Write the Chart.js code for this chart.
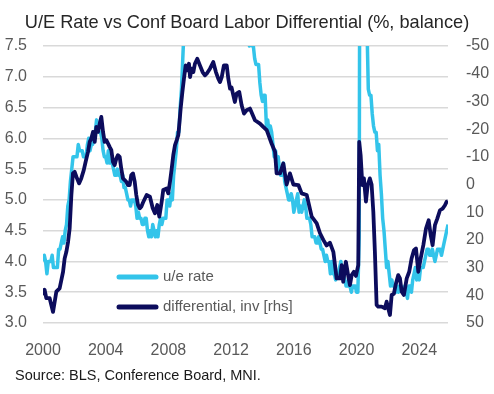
<!DOCTYPE html>
<html>
<head>
<meta charset="utf-8">
<script src="https://cdn.jsdelivr.net/npm/chart.js@4.4.1/dist/chart.umd.min.js"></script>
<style>
  html, body { margin: 0; padding: 0; background: #ffffff; }
  #wrap { width: 494px; height: 394px; }
</style>
</head>
<body>
<div id="wrap"><canvas id="c" width="494" height="394"></canvas></div>
<script>
// ---------- DATA ----------
const titleText = "U/E Rate vs Conf Board Labor Differential (%, balance)";
const sourceText = "Source: BLS, Conference Board, MNI.";
const ueLabel = "u/e rate";
const diffLabel = "differential, inv [rhs]";

const ueStartYear = 2000; // monthly, from Jan 2000
const ueRate = [
  4.0,4.1,4.0,3.8,4.0,4.0,4.0,4.1,3.9,3.9,3.9,3.9,
  4.2,4.2,4.3,4.4,4.3,4.5,4.6,4.9,5.0,5.3,5.5,5.7,
  5.7,5.7,5.7,5.9,5.8,5.8,5.8,5.7,5.7,5.7,5.9,6.0,
  5.8,5.9,5.9,6.0,6.1,6.3,6.2,6.1,6.1,6.0,5.8,5.7,
  5.7,5.6,5.8,5.6,5.6,5.6,5.5,5.4,5.4,5.5,5.4,5.4,
  5.3,5.4,5.2,5.2,5.1,5.0,5.0,4.9,5.0,5.0,5.0,4.9,
  4.7,4.8,4.7,4.7,4.6,4.6,4.7,4.7,4.5,4.4,4.5,4.4,
  4.6,4.5,4.4,4.5,4.4,4.6,4.7,4.6,4.7,4.7,4.7,5.0,
  5.0,4.9,5.1,5.0,5.4,5.6,5.8,6.1,6.1,6.5,6.8,7.3,
  7.8,8.3,8.7,9.0,9.4,9.5,9.5,9.6,9.8,10.0,9.9,9.9,
  9.8,9.8,9.9,9.9,9.6,9.4,9.4,9.5,9.5,9.4,9.8,9.3,
  9.1,9.0,9.0,9.1,9.0,9.1,9.0,9.0,9.0,8.8,8.6,8.5,
  8.3,8.3,8.2,8.2,8.2,8.2,8.2,8.0,7.8,7.8,7.7,7.9,
  8.0,7.7,7.5,7.6,7.5,7.5,7.3,7.2,7.2,7.2,6.9,6.7,
  6.6,6.7,6.7,6.2,6.3,6.1,6.2,6.1,5.9,5.7,5.8,5.6,
  5.7,5.5,5.4,5.4,5.6,5.3,5.2,5.1,5.0,5.0,5.1,5.0,
  4.8,4.9,5.0,5.1,4.8,4.9,4.8,4.9,5.0,4.9,4.7,4.7,
  4.7,4.6,4.4,4.4,4.4,4.3,4.3,4.4,4.3,4.2,4.2,4.1,
  4.0,4.1,4.0,4.0,3.8,4.0,3.8,3.8,3.7,3.8,3.8,3.9,
  4.0,3.8,3.8,3.7,3.6,3.6,3.7,3.6,3.5,3.6,3.6,3.6,
  3.5,3.5,4.4,14.8,13.2,11.0,10.2,8.4,7.8,6.8,6.7,6.7,
  6.4,6.2,6.1,6.1,5.8,5.9,5.4,5.1,4.7,4.5,4.2,3.9,
  4.0,3.8,3.6,3.7,3.6,3.6,3.5,3.6,3.5,3.6,3.6,3.5,
  3.5,3.6,3.5,3.4,3.6,3.6,3.5,3.7,3.8,3.9,3.7,3.8,
  3.7,3.9,3.9,3.9,4.0,4.1,4.2,4.2,4.1,4.1,4.2,4.1,
  4.0,4.1,4.2,4.2,4.2,4.1,4.2,4.3,4.4,null,4.6
];

// Conference Board labour differential, decimal years
const diffDates = [
  2000.00,2000.10,2000.21,2000.42,2000.55,2000.64,2000.85,2001.06,2001.17,2001.28,
  2001.38,2001.49,2001.60,2001.70,2001.81,2001.91,2002.02,2002.13,2002.30,2002.44,
  2002.60,2002.72,2002.87,2002.98,2003.08,2003.19,2003.30,2003.40,2003.51,2003.62,
  2003.72,2003.83,2003.93,2004.04,2004.15,2004.25,2004.36,2004.46,2004.57,2004.68,
  2004.78,2004.89,2004.99,2005.10,2005.21,2005.31,2005.42,2005.53,2005.63,2005.74,
  2005.85,2005.95,2006.06,2006.17,2006.27,2006.38,2006.61,2006.82,2007.00,2007.14,
  2007.29,2007.42,2007.57,2007.67,2007.89,2007.99,2008.10,2008.21,2008.31,2008.42,
  2008.53,2008.63,2008.69,2008.78,2008.89,2008.99,2009.10,2009.20,2009.31,2009.38,
  2009.48,2009.59,2009.69,2009.84,2010.01,2010.18,2010.33,2010.44,2010.65,2010.86,
  2011.03,2011.18,2011.29,2011.40,2011.54,2011.72,2011.82,2011.93,2012.03,2012.14,
  2012.24,2012.35,2012.52,2012.67,2012.82,2012.99,2013.20,2013.52,2013.84,2014.05,
  2014.27,2014.58,2014.80,2014.90,2015.12,2015.33,2015.54,2015.75,2015.97,2016.29,
  2016.50,2016.82,2016.92,2017.14,2017.46,2017.67,2017.88,2018.09,2018.30,2018.52,
  2018.73,2018.94,2019.05,2019.15,2019.32,2019.47,2019.58,2019.69,2019.83,2019.96,
  2020.11,2020.17,2020.26,2020.37,2020.47,2020.60,2020.71,2020.85,2020.96,2021.07,
  2021.17,2021.28,2021.38,2021.60,2021.81,2021.92,2022.02,2022.13,2022.24,2022.38,
  2022.49,2022.66,2022.77,2022.88,2023.02,2023.20,2023.36,2023.51,2023.66,2023.79,
  2023.94,2024.09,2024.26,2024.43,2024.60,2024.73,2024.85,2025.00,2025.15,2025.32,
  2025.49,2025.64,2025.75,2025.83
];
const diffValues = [
  40,38,41,41,44,46,38.7,37.5,34.5,31.5,
  26.7,24.3,20.7,15.9,3.8,-4,-4.6,-2.8,-0.4,-2.2,
  -5.2,-8.2,-11.8,-15.4,-16.6,-19,-15.4,-20.8,-19,-22,
  -24.4,-19,-15.4,-16,-14.8,-13.6,-12.4,-8.2,-7,-9.4,
  -10.6,-10,-5.8,-2.2,-1.6,-1,0.2,0.2,-3.4,-4,
  -1,3.8,7.4,8.6,8,6.5,3.8,4.4,8.6,10.4,
  7.4,11.6,6.2,2,1.4,3.2,-1,-5.8,-10.6,-14.2,
  -16,-17.8,-21.4,-27.4,-33.4,-38.2,-43,-41.2,-43.6,-38.8,
  -41.8,-40.6,-43.6,-45.4,-43,-40.6,-39.4,-40,-41.8,-44.2,
  -40.6,-38.2,-37,-38.8,-43,-43,-38.2,-34.6,-35,-32.2,
  -29.8,-32.8,-33.4,-28.6,-25.6,-26.8,-27.4,-23.2,-22,-20.8,
  -19.6,-14.8,-11.8,-4,-4,-7.6,0,-4,0,0.2,
  3.2,3.8,6.2,11.6,14,17.6,20,22,21,24.3,
  33.9,33.9,29.1,35.1,27.9,33,36.3,32.7,31.5,33,
  29.1,-15.4,-10.6,0.2,-2.2,6.2,0.2,-2.2,0,9.9,
  24.3,43.5,44.1,44.1,44.7,42.3,44.7,47.1,39.9,39.5,
  36.3,32.7,33.9,38.7,39.9,33.9,31.5,26.7,23.7,23.1,
  31.5,26.7,21.9,15.9,12.9,18.3,21.9,14.7,12.3,9.3,
  8.7,7.5,6.2,6.0
];

const xTicks = [2000, 2004, 2008, 2012, 2016, 2020, 2024];
const leftTicks = [3.0, 3.5, 4.0, 4.5, 5.0, 5.5, 6.0, 6.5, 7.0, 7.5];
const rightTicks = [-50, -40, -30, -20, -10, 0, 10, 20, 30, 40, 50];

// ---------- BUILD ----------
const uePoints = ueRate.map((v, i) => ({ x: ueStartYear + i / 12, y: v }));
const diffPoints = diffDates.map((d, i) => ({ x: d, y: diffValues[i] }));
const xMax = ueStartYear + (ueRate.length - 1) / 12;

const UE_COLOR = '#33c4ea';
const DIFF_COLOR = '#0c0c5c';
const TICK_COLOR = '#595959';
const FONT = '"Liberation Sans", Arial, sans-serif';

const overlay = {
  id: 'overlay',
  afterDraw(chart) {
    const ctx = chart.ctx;
    ctx.save();
    // title
    ctx.fillStyle = '#262626';
    ctx.font = '18.2px ' + FONT;
    ctx.textAlign = 'center';
    ctx.textBaseline = 'middle';
    ctx.fillText(titleText, 247, 23);
    // legend
    const items = [
      { label: chart.data.datasets[0].label, color: UE_COLOR, y: 277 },
      { label: chart.data.datasets[1].label, color: DIFF_COLOR, y: 307 }
    ];
    ctx.lineCap = 'round';
    ctx.font = '15px ' + FONT;
    ctx.textAlign = 'left';
    items.forEach(it => {
      ctx.strokeStyle = it.color;
      ctx.lineWidth = 5;
      ctx.beginPath();
      ctx.moveTo(119, it.y);
      ctx.lineTo(156, it.y);
      ctx.stroke();
      ctx.fillStyle = TICK_COLOR;
      ctx.fillText(it.label, 163, it.y);
    });
    // source
    ctx.fillStyle = '#1a1a1a';
    ctx.font = '14.5px ' + FONT;
    ctx.fillText(sourceText, 15, 376);
    ctx.restore();
  }
};

new Chart(document.getElementById('c'), {
  type: 'line',
  data: {
    datasets: [
      { label: ueLabel, data: uePoints, yAxisID: 'y', borderColor: UE_COLOR,
        backgroundColor: UE_COLOR, borderWidth: 3.5, pointRadius: 0, tension: 0,
        spanGaps: true, order: 2, borderJoinStyle: 'round' },
      { label: diffLabel, data: diffPoints, yAxisID: 'y1', borderColor: DIFF_COLOR,
        backgroundColor: DIFF_COLOR, borderWidth: 3.8, pointRadius: 0, tension: 0,
        order: 1, borderJoinStyle: 'round' }
    ]
  },
  options: {
    responsive: false,
    animation: false,
    devicePixelRatio: 1,
    layout: { padding: { top: 46, left: 0, right: 0, bottom: 31 } },
    plugins: { legend: { display: false }, title: { display: false }, tooltip: { enabled: false } },
    scales: {
      x: {
        type: 'linear', min: ueStartYear, max: xMax,
        grid: { display: false, drawTicks: false }, border: { display: false },
        afterBuildTicks: s => { s.ticks = xTicks.map(v => ({ value: v })); },
        afterFit: s => { s.height = 40; },
        ticks: { color: TICK_COLOR, font: { family: FONT, size: 16 }, padding: 18,
                 maxRotation: 0, autoSkip: false, callback: v => String(v) }
      },
      y: {
        position: 'left', min: 3, max: 7.5,
        afterBuildTicks: s => { s.ticks = leftTicks.map(v => ({ value: v })); },
        afterFit: s => { s.width = 43; },
        grid: { color: '#d9d9d9', lineWidth: 1.6, drawTicks: false },
        border: { display: false },
        ticks: { color: TICK_COLOR, font: { family: FONT, size: 16 }, padding: 16,
                 callback: v => Number(v).toFixed(1) }
      },
      y1: {
        position: 'right', min: -50, max: 50, reverse: true,
        afterBuildTicks: s => { s.ticks = rightTicks.map(v => ({ value: v })); },
        afterFit: s => { s.width = 46; },
        grid: { display: false, drawTicks: false }, border: { display: false },
        ticks: { color: TICK_COLOR, font: { family: FONT, size: 16 }, padding: 18,
                 crossAlign: 'near', callback: v => String(v) }
      }
    }
  },
  plugins: [overlay]
});
</script>
</body>
</html>
